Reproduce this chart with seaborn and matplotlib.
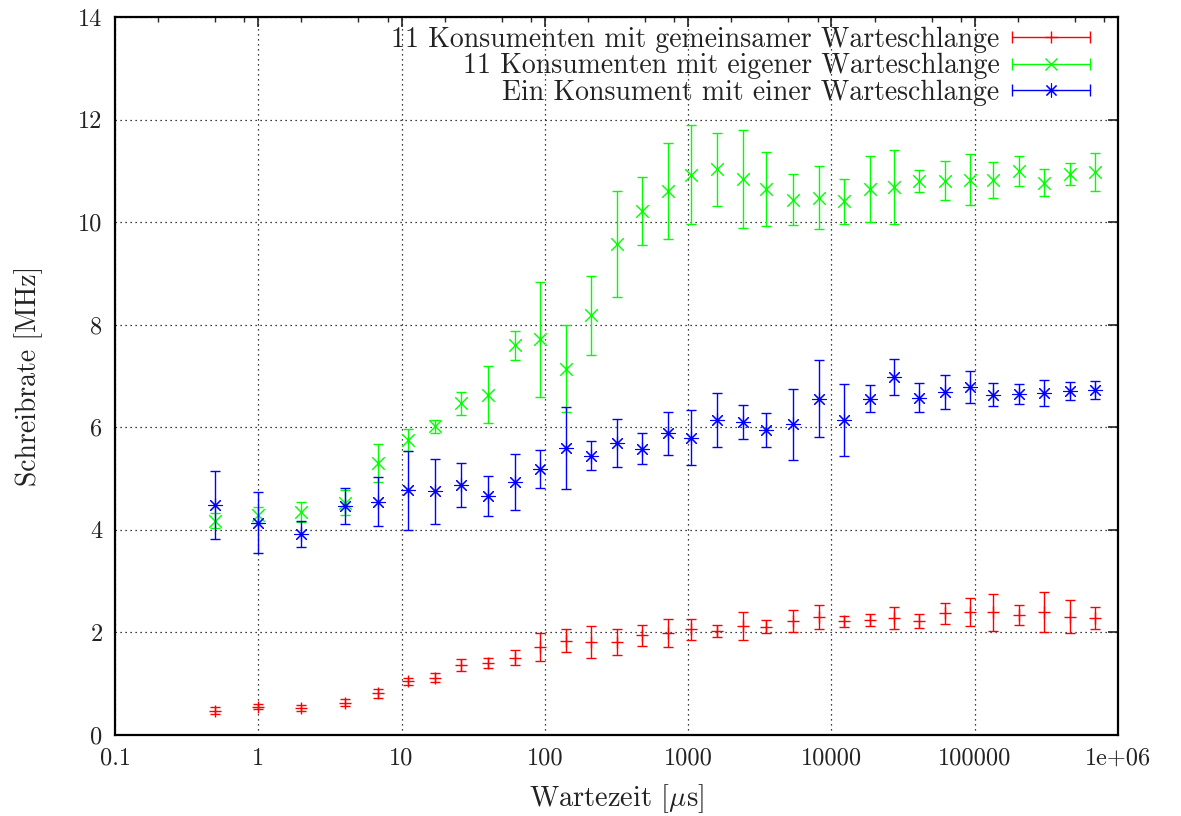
import numpy as np
import pandas as pd
import matplotlib
matplotlib.use("Agg")
import matplotlib.pyplot as plt
import seaborn as sns
from matplotlib.lines import Line2D
from matplotlib.legend_handler import HandlerTuple, HandlerLine2D
from matplotlib.ticker import LogLocator, FixedLocator, FixedFormatter, NullFormatter

# ---------------- data ----------------
wartezeit = [0.5, 1, 2, 4, 6.8, 11, 17, 26, 40, 62, 92, 140, 210, 320, 480, 720,
             1050, 1600, 2400, 3500, 5400, 8200, 12300, 18500, 27500, 41000,
             62000, 93000, 135000, 205000, 305000, 460000, 690000]

red_y = [0.47, 0.55, 0.53, 0.63, 0.81, 1.05, 1.12, 1.36, 1.40, 1.51, 1.71, 1.84,
         1.82, 1.81, 1.94, 1.99, 2.06, 2.03, 2.13, 2.11, 2.22, 2.30, 2.22, 2.24,
         2.28, 2.22, 2.37, 2.40, 2.39, 2.34, 2.40, 2.31, 2.28]
red_err = [0.07, 0.05, 0.06, 0.07, 0.09, 0.07, 0.08, 0.12, 0.10, 0.15, 0.27, 0.22,
           0.31, 0.25, 0.20, 0.28, 0.21, 0.11, 0.27, 0.13, 0.22, 0.23, 0.11, 0.12,
           0.22, 0.13, 0.20, 0.27, 0.36, 0.19, 0.39, 0.33, 0.21]

green_y = [4.18, 4.29, 4.35, 4.53, 5.30, 5.75, 6.02, 6.47, 6.64, 7.60, 7.72, 7.14,
           8.19, 9.57, 10.22, 10.61, 10.93, 11.03, 10.84, 10.64, 10.44, 10.48,
           10.41, 10.65, 10.68, 10.80, 10.81, 10.83, 10.82, 11.00, 10.77, 10.94, 10.98]
green_err = [0.15, 0.15, 0.20, 0.24, 0.37, 0.21, 0.13, 0.22, 0.55, 0.28, 1.12, 0.85,
             0.77, 1.03, 0.67, 0.93, 0.96, 0.72, 0.95, 0.72, 0.50, 0.62, 0.44, 0.65,
             0.72, 0.22, 0.38, 0.50, 0.35, 0.30, 0.26, 0.22, 0.37]

blue_y = [4.48, 4.14, 3.92, 4.46, 4.55, 4.77, 4.75, 4.88, 4.66, 4.93, 5.19, 5.60,
          5.45, 5.70, 5.58, 5.88, 5.80, 6.14, 6.10, 5.95, 6.06, 6.56, 6.14, 6.56,
          6.99, 6.58, 6.69, 6.79, 6.64, 6.65, 6.67, 6.71, 6.73]
blue_err = [0.66, 0.59, 0.26, 0.35, 0.48, 0.77, 0.64, 0.43, 0.39, 0.55, 0.37, 0.80,
            0.28, 0.47, 0.30, 0.41, 0.53, 0.52, 0.33, 0.33, 0.69, 0.75, 0.70, 0.27,
            0.35, 0.28, 0.33, 0.31, 0.22, 0.20, 0.26, 0.17, 0.18]

series_names = ["11 Konsumenten mit gemeinsamer Warteschlange",
                "11 Konsumenten mit eigener Warteschlange",
                "Ein Konsument mit einer Warteschlange"]

x_tick_values = [0.1, 1, 10, 100, 1000, 10000, 100000, 1000000]
x_tick_labels = ["0.1", "1", "10", "100", "1000", "10000", "100000", "1e+06"]
y_tick_values = [0, 2, 4, 6, 8, 10, 12, 14]

# ---------------- style ----------------
sns.set_theme(style="white")
plt.rcParams["font.family"] = ["cmr10", "DejaVu Serif"]
plt.rcParams["mathtext.fontset"] = "cm"
plt.rcParams["axes.formatter.use_mathtext"] = True
plt.rcParams["axes.unicode_minus"] = False

colors = ["#ff0000", "#00ff00", "#0000ff"]
markers = ["+", "x", (8, 2, 0)]
msizes = [9, 9, 10]
mlw = [1.0, 1.0, 0.8]

frames = []
for name, y, e in zip(series_names, [red_y, green_y, blue_y], [red_err, green_err, blue_err]):
    frames.append(pd.DataFrame({"x": wartezeit, "y": y, "err": e, "serie": name}))
df = pd.concat(frames, ignore_index=True)

fig = plt.figure(figsize=(11.81, 8.16), dpi=100)
ax = fig.add_axes([0.0974, 0.0993, 0.8492, 0.8797])

for i, name in enumerate(series_names):
    d = df[df["serie"] == name]
    ax.errorbar(d["x"], d["y"], yerr=d["err"], fmt="none", ecolor=colors[i],
                elinewidth=1.0, capsize=3.8, capthick=1.0, zorder=2 + i)
    sns.scatterplot(data=d, x="x", y="y", ax=ax, color=colors[i], marker=markers[i],
                    s=msizes[i] ** 2, linewidth=mlw[i], legend=False, zorder=2.5 + i)

ax.set_xscale("log")
ax.set_xlim(0.1, 1000000)
ax.set_ylim(0, 14)

ax.xaxis.set_major_locator(FixedLocator(x_tick_values))
ax.xaxis.set_major_formatter(FixedFormatter(x_tick_labels))
ax.xaxis.set_minor_locator(LogLocator(base=10, subs=[2, 5, 8], numticks=20))
ax.xaxis.set_minor_formatter(NullFormatter())
ax.yaxis.set_major_locator(FixedLocator(y_tick_values))
ax.set_yticklabels([str(v) for v in y_tick_values])

ax.tick_params(axis="both", which="major", direction="in", length=7, width=1.2,
               top=True, right=True, labelsize=17.5, pad=9, colors="#222222")
ax.tick_params(axis="both", which="minor", direction="in", length=3.5, width=1.0,
               top=True, right=True)
for sp in ax.spines.values():
    sp.set_linewidth(1.6)
    sp.set_color("black")

ax.grid(True, which="major", linestyle=(0, (1, 3)), color="black", linewidth=0.9)

ax.set_xlabel(r"Wartezeit [$\mu$s]", fontsize=20.5, color="#222222", labelpad=9)
ax.set_ylabel("Schreibrate [MHz]", fontsize=20, color="#222222", labelpad=25)

# legend (gnuplot-like: text left, errorbar sample right)
handles = []
hmap = {}
for i in range(3):
    caps = Line2D([0], [0], color=colors[i], lw=1.0, marker="|", markersize=9, mew=1.0)
    mk = Line2D([0], [0], color=colors[i], ls="none", marker=markers[i],
                markersize=msizes[i], mew=mlw[i])
    hmap[mk] = HandlerLine2D(numpoints=1)
    handles.append((caps, mk))
hmap[tuple] = HandlerTuple(ndivide=1)
leg = ax.legend(handles, series_names, handler_map=hmap, numpoints=2,
                loc="upper right", bbox_to_anchor=(0.998, 1.012), frameon=False,
                markerfirst=False, fontsize=20, handlelength=3.4,
                handletextpad=0.15, labelspacing=0.0, borderaxespad=0.35,
                borderpad=0.3)
for t in leg.get_texts():
    t.set_color("#222222")
leg.set_zorder(10)

fig.savefig("out.png", dpi=100)
